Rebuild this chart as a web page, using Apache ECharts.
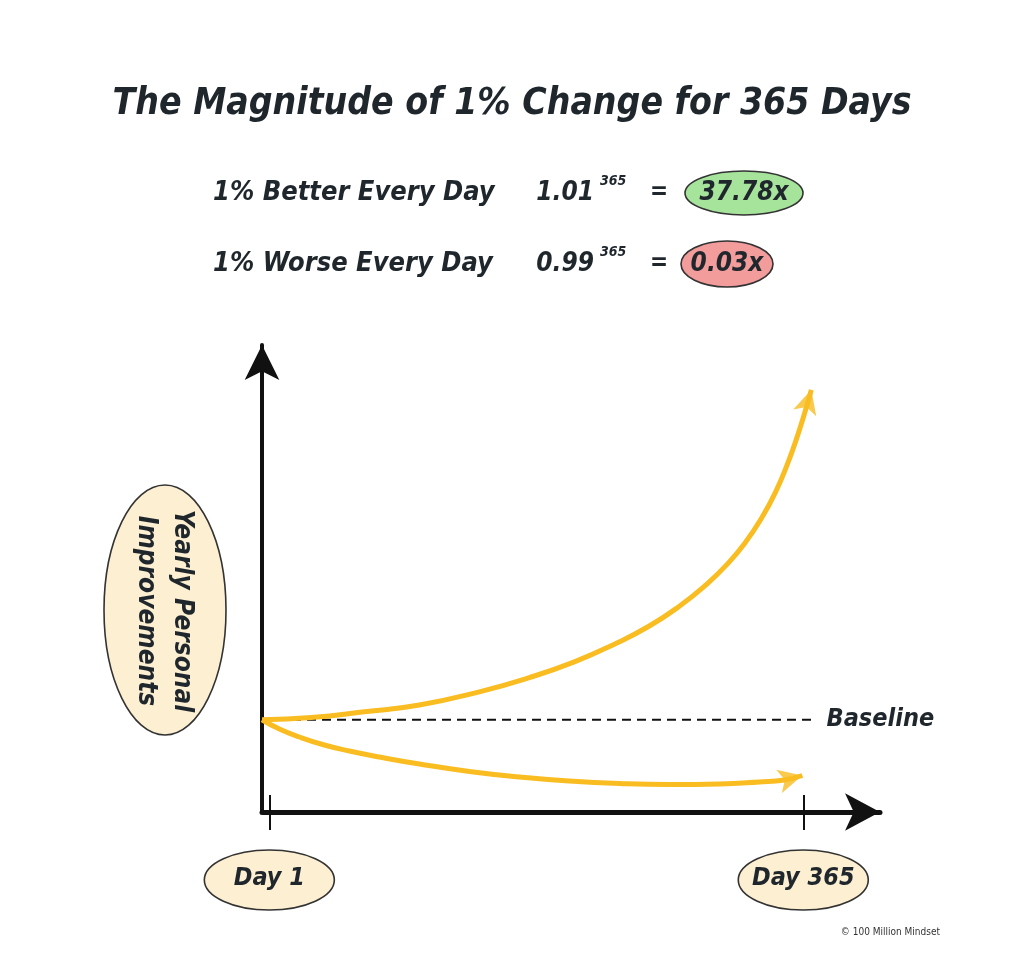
<!DOCTYPE html>
<html><head><meta charset="utf-8">
<script src="https://cdn.jsdelivr.net/npm/echarts@6/dist/echarts.min.js"></script>
<style>html,body{margin:0;padding:0;background:#fff}#c{width:1024px;height:974px}</style>
</head><body><div id="c"></div>
<script>
// ---- data ----
const titleText = 'The Magnitude of 1% Change for 365 Days';
const rowLabels = ['1% Better Every Day', '1% Worse Every Day'];
const rowBases = ['1.01', '0.99'];
const rowExponents = ['365', '365'];
const rowResults = ['37.78x', '0.03x'];
const yAxisLabelLines = ['Yearly Personal', 'Improvements'];
const xTickDays = [1, 365];
const xTickLabels = ['Day 1', 'Day 365'];
const baselineValue = 1;
const baselineLabel = 'Baseline';
const baselineSpan = [-4, 372];
// illustrative curves (relative level, baseline = 1), last point = arrow tip
const betterCurve = [[-4,1],[29.65,1.0245],[65.78,1.0857],[103.27,1.16],[144.17,1.3031],[178.25,1.4571],[208.93,1.6284],[236.2,1.8192],[260.06,2.0165],[280.51,2.2311],[298.23,2.4566],[313.22,2.6876],[325.49,2.9218],[336.4,3.1819],[345.94,3.4627],[354.12,3.7684],[360.94,4.072],[366.39,4.3495],[370.48,4.5772]];
const worseCurve = [[-4,1],[7.84,0.8998],[21.47,0.8131],[38.51,0.7264],[55.56,0.6613],[76.01,0.5963],[103.27,0.5204],[137.36,0.4391],[171.44,0.3794],[205.52,0.3361],[239.6,0.309],[273.69,0.2981],[307.77,0.3036],[335.04,0.3252],[352.08,0.3469],[364.35,0.3957]];
const credit = '\u00a9 100 Million Mindset';

// ---- style ----
const FONT = "'DejaVu Sans Condensed','DejaVu Sans',sans-serif";
const INK = '#1f272d';
const YELLOW = '#f9bd22';
const CREAM = '#fdefd1';

const chart = echarts.init(document.getElementById('c'), null, {renderer: 'canvas'});

const handText = (size) => ({fontFamily: FONT, fontStyle: 'italic', fontWeight: 'bold', fontSize: size, color: INK});

const option = {
  animation: false,
  backgroundColor: '#ffffff',
  title: {
    text: titleText, left: 'center', top: 81,
    textStyle: handText(37)
  },
  grid: {left: 262, right: 144, top: 345, bottom: 162},
  xAxis: [{
    type: 'value', min: -4, max: 417.3,
    axisLine: {show: true, onZero: false, symbol: ['none', 'arrow'], symbolSize: [28, 35],
      lineStyle: {color: '#111', width: 5}},
    axisTick: {show: true, customValues: xTickDays, length: 18, inside: false,
      lineStyle: {color: '#111', width: 2}},
    axisLabel: {show: true, customValues: xTickDays, margin: 54,
      formatter: (v) => xTickLabels[xTickDays.indexOf(v)],
      fontFamily: FONT, fontStyle: 'italic', fontWeight: 'bold', fontSize: 25, color: INK},
    splitLine: {show: false}
  }, {
    type: 'value', min: -4, max: 417.3, position: 'bottom', gridIndex: 0,
    axisLine: {show: false, onZero: false},
    axisTick: {show: true, customValues: xTickDays, length: 17, inside: true,
      lineStyle: {color: '#111', width: 2}},
    axisLabel: {show: false},
    splitLine: {show: false}
  }],
  yAxis: {
    type: 'value', min: 0, max: 5.063,
    axisLine: {show: true, onZero: false, symbol: ['none', 'arrow'], symbolSize: [26, 35],
      lineStyle: {color: '#111', width: 4}},
    axisTick: {show: false}, axisLabel: {show: false}, splitLine: {show: false}
  },
  series: [{
    name: 'Baseline', type: 'line', silent: true, z: 2,
    data: [[baselineSpan[0], baselineValue], [baselineSpan[1], baselineValue]],
    symbol: 'none',
    lineStyle: {color: '#111', width: 2, type: [9, 6]},
    endLabel: {show: true, formatter: baselineLabel, distance: 13,
      fontFamily: FONT, fontStyle: 'italic', fontWeight: 'bold', fontSize: 25, color: INK}
  }, {
    name: '1% Better Every Day', type: 'line', silent: true, z: 3,
    data: betterCurve, smooth: 0.5, symbol: 'none',
    lineStyle: {color: YELLOW, width: 5, cap: 'butt'}
  }, {
    name: '1% Worse Every Day', type: 'line', silent: true, z: 3,
    data: worseCurve, smooth: 0.5, symbol: 'none',
    lineStyle: {color: YELLOW, width: 5, cap: 'butt'}
  }]
};
chart.setOption(option);

// arrowheads at curve ends, rotated along the last segment (pixel space)
function arrowAt(curve) {
  const a = chart.convertToPixel({gridIndex: 0}, curve[curve.length - 2]);
  const b = chart.convertToPixel({gridIndex: 0}, curve[curve.length - 1]);
  const ang = Math.atan2(-(b[1] - a[1]), b[0] - a[0]) * 180 / Math.PI;
  return {value: curve[curve.length - 1], symbolRotate: ang - 90};
}

const graphics = [];
// formula rows
const rowY = [193, 264];
const resultFill = ['#a6e39b', '#f39c9c'];
const resultEll = [{cx: 744, rx: 59, ry: 22}, {cx: 727, rx: 46, ry: 23}];
rowLabels.forEach((t, i) => {
  const y = rowY[i];
  graphics.push({type: 'text', x: 213, y: y, style: Object.assign(handText(27), {text: t, fill: INK, verticalAlign: 'middle', align: 'left'})});
  graphics.push({type: 'text', x: 594, y: y, style: Object.assign(handText(26), {text: rowBases[i], fill: INK, verticalAlign: 'middle', align: 'right'})});
  graphics.push({type: 'text', x: 600, y: y - 12, style: Object.assign(handText(14), {text: rowExponents[i], fill: INK, verticalAlign: 'middle', align: 'left'})});
  graphics.push({type: 'text', x: 659, y: y, style: Object.assign(handText(24), {text: '=', fill: INK, verticalAlign: 'middle', align: 'center'})});
  graphics.push({type: 'ellipse', shape: {cx: resultEll[i].cx, cy: y, rx: resultEll[i].rx, ry: resultEll[i].ry},
    style: {fill: resultFill[i], stroke: '#333', lineWidth: 1.6}});
  graphics.push({type: 'text', x: resultEll[i].cx, y: y, style: Object.assign(handText(26), {text: rowResults[i], fill: INK, verticalAlign: 'middle', align: 'center'})});
});
// y-axis name bubble
graphics.push({type: 'ellipse', shape: {cx: 165, cy: 610, rx: 61, ry: 125}, style: {fill: CREAM, stroke: '#333', lineWidth: 1.6}});
graphics.push({type: 'text', x: 164, y: 611, rotation: -Math.PI / 2,
  style: Object.assign(handText(26), {text: yAxisLabelLines.join('\n'), fill: INK, align: 'center', verticalAlign: 'middle', lineHeight: 36})});
// day bubbles behind axis labels
xTickDays.forEach((d) => {
  const p = chart.convertToPixel({xAxisIndex: 0}, d);
  graphics.push({type: 'ellipse', z: -10, shape: {cx: p, cy: 880, rx: 65, ry: 30}, style: {fill: CREAM, stroke: '#333', lineWidth: 1.6}});
});
// credit
graphics.push({type: 'text', x: 940, y: 932, style: {text: credit, fill: '#333', fontFamily: "'Liberation Sans Narrow','DejaVu Sans Condensed',sans-serif", fontSize: 10, align: 'right', verticalAlign: 'middle'}});

chart.setOption({
  graphic: {elements: graphics},
  series: [{}, {}, {}, {
    name: 'arrows', type: 'scatter', silent: true, z: 4,
    symbol: 'arrow', symbolSize: [18, 24],
    itemStyle: {color: YELLOW},
    data: [arrowAt(betterCurve), arrowAt(worseCurve)]
  }]
});
</script>
</body></html>
